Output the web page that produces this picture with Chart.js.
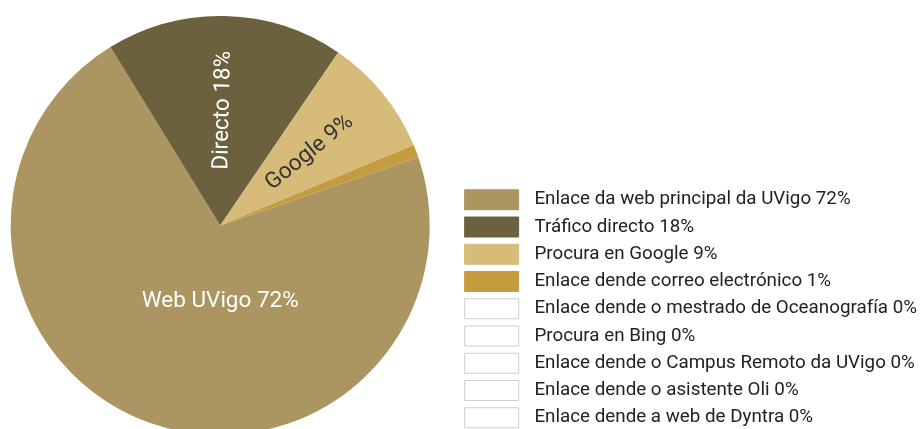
<!DOCTYPE html>
<html lang="gl">
<head>
<meta charset="UTF-8">
<script src="https://cdn.jsdelivr.net/npm/chart.js"></script>
<title>Orixe do tráfico</title>
<style>
  html, body { margin: 0; padding: 0; background: #fff; overflow: hidden; }
  .wrap { position: absolute; left: -17px; top: 0; width: 944px; height: 435px; }
</style>
</head>
<body>
<div class="wrap">
  <canvas id="myChart"></canvas>
</div>

<script type="text/javascript">
// categorias e valores (porcentaxe)
const labels = [
  "Enlace da web principal da UVigo 72%",
  "Tráfico directo 18%",
  "Procura en Google 9%",
  "Enlace dende correo electrónico 1%",
  "Enlace dende o mestrado de Oceanografía 0%",
  "Procura en Bing 0%",
  "Enlace dende o Campus Remoto da UVigo 0%",
  "Enlace dende o asistente Oli 0%",
  "Enlace dende a web de Dyntra 0%"
]
const valores = [71.5, 18.3, 9.2, 1.0, 0, 0, 0, 0, 0]
const etiquetasSector = ["Web UVigo 72%", "Directo 18%", "Google 9%", "", "", "", "", "", ""]

const cores = ['#ab9661', '#6c613e', '#d6bc78', '#c49c3f', '#ffffff', '#ffffff', '#ffffff', '#ffffff', '#ffffff']
const coresBorde = ['#ab9661', '#6c613e', '#d6bc78', '#c49c3f', '#cfcfcf', '#cfcfcf', '#cfcfcf', '#cfcfcf', '#cfcfcf']
const coresTexto = ['#ffffff', '#ffffff', '#333333', '#333333']
const radial = [false, true, true, false]

// texto dentro dos sectores
const sectorLabels = {
  id: 'sectorLabels',
  afterDatasetsDraw(chart) {
    const ctx = chart.ctx
    const meta = chart.getDatasetMeta(0)
    meta.data.forEach(function (arc, i) {
      const txt = etiquetasSector[i]
      if (!txt) return
      const p = arc.getProps(['x', 'y', 'startAngle', 'endAngle', 'outerRadius'], true)
      const mid = (p.startAngle + p.endAngle) / 2
      ctx.save()
      ctx.font = '22.5px Roboto'
      ctx.fillStyle = coresTexto[i]
      ctx.textAlign = 'center'
      ctx.textBaseline = 'middle'
      if (radial[i]) {
        const r = p.outerRadius * 0.55
        ctx.translate(p.x + Math.cos(mid) * r, p.y + Math.sin(mid) * r)
        ctx.rotate(mid)
      } else {
        ctx.translate(p.x, p.y + p.outerRadius * 0.36)
      }
      ctx.fillText(txt, 0, 0)
      ctx.restore()
    })
  }
}

const data = {
  labels: labels,
  datasets: [{
    data: valores,
    backgroundColor: cores,
    borderWidth: 0
  }]
}

const config = {
  type: 'pie',
  data: data,
  options: {
    responsive: true,
    maintainAspectRatio: false,
    animation: false,
    rotation: 71,
    layout: { padding: { top: 16, left: 0, right: 0, bottom: 0 } },
    plugins: {
      tooltip: { enabled: false },
      legend: {
        position: 'right',
        align: 'end',
        labels: {
          boxWidth: 54,
          boxHeight: 20,
          padding: 7.25,
          color: '#222222',
          font: { family: 'Roboto', size: 18.8 },
          generateLabels(chart) {
            return labels.map(function (l, i) {
              return {
                text: '\u2004' + l,
                fillStyle: cores[i],
                strokeStyle: coresBorde[i],
                lineWidth: 1,
                fontColor: '#222222',
                hidden: false,
                index: i
              }
            })
          }
        }
      }
    }
  },
  plugins: [sectorLabels]
}

const myChart = new Chart(document.getElementById('myChart'), config)
</script>
</body>
</html>
